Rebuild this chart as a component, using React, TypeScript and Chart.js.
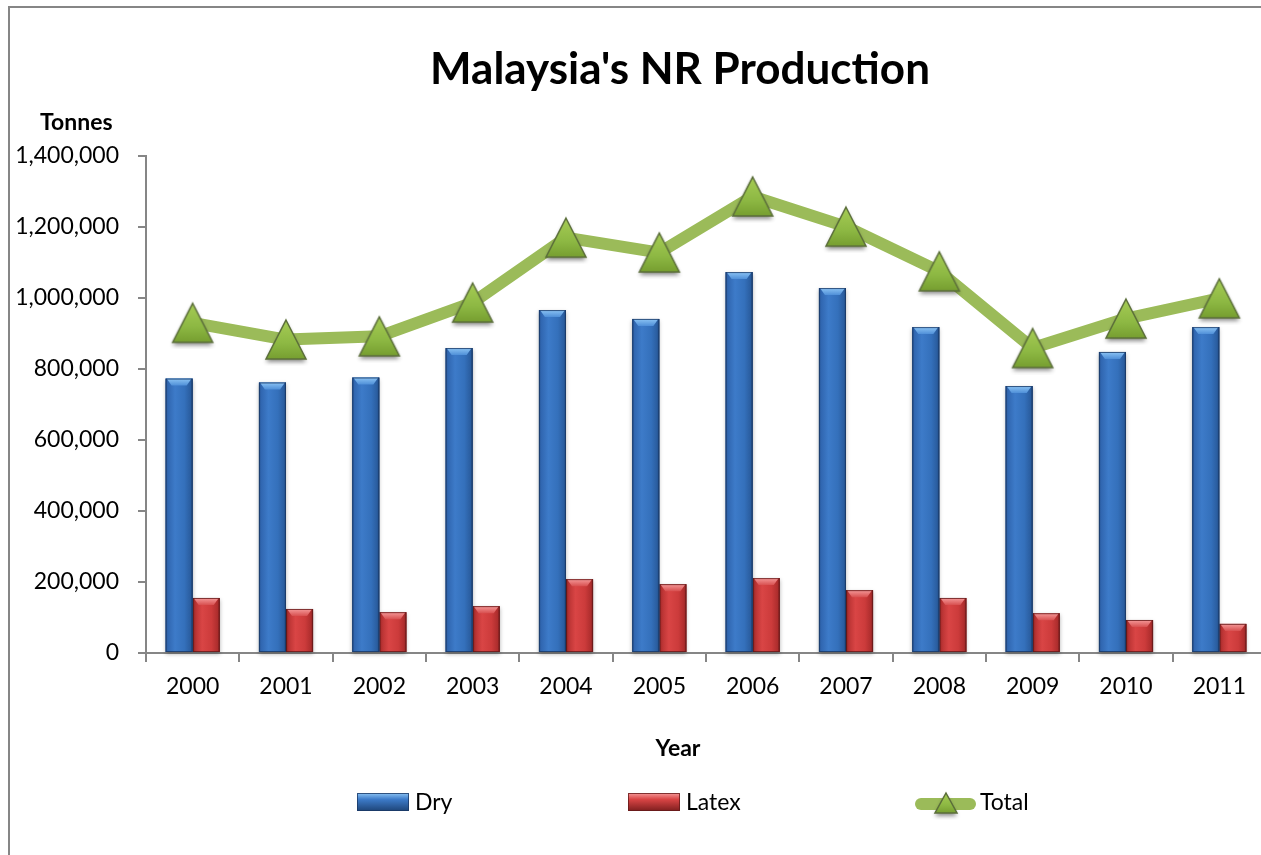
import React, { useEffect, useRef } from "react";
import { Chart, registerables } from "chart.js";

Chart.register(...registerables);

// ---------------- data ----------------
const years = ["2000", "2001", "2002", "2003", "2004", "2005", "2006", "2007", "2008", "2009", "2010", "2011"];
const dry = [773000, 762000, 776000, 859000, 966000, 941000, 1073000, 1028000, 918000, 752000, 848000, 918000];
const latex = [155000, 124000, 115000, 132000, 208000, 194000, 211000, 177000, 155000, 112000, 93000, 82000];
const total = [930000, 883000, 892000, 987000, 1170000, 1128000, 1286000, 1201000, 1075000, 859000, 942000, 999000];
const yTicksMax = 1400000;
const yTickStep = 200000;

const seriesNames = ["Dry", "Latex", "Total"];
const chartTitle = "Malaysia's NR Production";
const yTitle = "Tonnes";
const xTitle = "Year";

// ---------------- style ----------------
const FONT = 'Lato, "Noto Sans", sans-serif';
const AXIS = "#868686";
const GREEN = "#9bbb59";

const BLUE = {
  base: "#3470bd",
  stops: [
    [0, "#24508e"],
    [0.08, "#3066b0"],
    [0.35, "#3d7bc9"],
    [0.7, "#3470bb"],
    [0.92, "#2a5d9f"],
    [1, "#1e4578"],
  ],
  bevelTop: "#8cc4f4",
  bevelBot: "#4f8fd8",
  edge: "rgba(25,55,100,0.8)",
};
const RED = {
  base: "#c83a3a",
  stops: [
    [0, "#8e2424"],
    [0.08, "#b83232"],
    [0.35, "#d94545"],
    [0.7, "#cc3b3b"],
    [0.92, "#ad2d2d"],
    [1, "#7e1e1e"],
  ],
  bevelTop: "#f59a9a",
  bevelBot: "#d85050",
  edge: "rgba(100,25,25,0.8)",
};

function makeTriangle(w: number, h: number): HTMLCanvasElement {
  const pad = 7;
  const c = document.createElement("canvas");
  c.width = w + pad * 2;
  c.height = h + pad * 2;
  const g = c.getContext("2d")!;
  const path = () => {
    g.beginPath();
    g.moveTo(pad + w / 2, pad);
    g.lineTo(pad + w, pad + h);
    g.lineTo(pad, pad + h);
    g.closePath();
  };
  g.save();
  g.shadowColor = "rgba(0,0,0,0.45)";
  g.shadowBlur = 4;
  g.shadowOffsetY = 3;
  path();
  g.fillStyle = "#84ab3c";
  g.fill();
  g.restore();
  const grad = g.createLinearGradient(0, pad, 0, pad + h);
  grad.addColorStop(0, "#a6cc55");
  grad.addColorStop(0.6, "#8db843");
  grad.addColorStop(1, "#769e30");
  path();
  g.fillStyle = grad;
  g.fill();
  g.lineWidth = 1.5;
  g.strokeStyle = "#5b6e3a";
  g.stroke();
  return c;
}

function drawBarRect(ctx: CanvasRenderingContext2D, l: number, t: number, r: number, b: number, pal: any, shadow: boolean) {
  ctx.save();
  if (shadow) {
    ctx.shadowColor = "rgba(0,0,0,0.3)";
    ctx.shadowBlur = 4;
    ctx.shadowOffsetY = 2;
  }
  const g = ctx.createLinearGradient(l, 0, r, 0);
  pal.stops.forEach(([o, c]: [number, string]) => g.addColorStop(o, c));
  ctx.fillStyle = g;
  ctx.fillRect(l, t, r - l, b - t);
  ctx.restore();
  const bh = Math.min(7, (b - t) / 2);
  ctx.save();
  ctx.beginPath();
  ctx.moveTo(l + 1, t);
  ctx.lineTo(r - 1, t);
  ctx.lineTo(r - 6, t + bh);
  ctx.lineTo(l + 6, t + bh);
  ctx.closePath();
  const bg = ctx.createLinearGradient(0, t, 0, t + bh);
  bg.addColorStop(0, pal.bevelTop);
  bg.addColorStop(1, pal.bevelBot);
  ctx.fillStyle = bg;
  ctx.fill();
  ctx.strokeStyle = pal.edge;
  ctx.lineWidth = 1;
  ctx.strokeRect(l + 0.5, t + 0.5, r - l - 1, b - t - 1);
  ctx.restore();
}

const barStylePlugin = {
  id: "barStyle",
  afterDatasetDraw(chart: any, args: any) {
    const meta = args.meta;
    if (meta.type !== "bar") return;
    const pal = meta.label === seriesNames[0] ? BLUE : RED;
    const ctx = chart.ctx as CanvasRenderingContext2D;
    meta.data.forEach((el: any) => {
      const { x, y, base, width } = el.getProps(["x", "y", "base", "width"], true);
      drawBarRect(ctx, x - width / 2, Math.min(y, base), x + width / 2, Math.max(y, base), pal, true);
    });
  },
};

const decorPlugin = {
  id: "decor",
  afterDraw(chart: any) {
    const ctx = chart.ctx as CanvasRenderingContext2D;
    ctx.save();
    // frame
    ctx.strokeStyle = AXIS;
    ctx.lineWidth = 2;
    ctx.beginPath();
    ctx.moveTo(9, chart.height);
    ctx.lineTo(9, 7);
    ctx.lineTo(chart.width, 7);
    ctx.stroke();

    ctx.fillStyle = "#000";
    // title
    ctx.font = `bold 44px ${FONT}`;
    ctx.textAlign = "center";
    ctx.textBaseline = "alphabetic";
    ctx.fillText(chartTitle, 680, 84);
    // y title
    ctx.font = `bold 23px ${FONT}`;
    ctx.textAlign = "left";
    ctx.fillText(yTitle, 40, 130);
    // x title
    ctx.textAlign = "center";
    ctx.fillText(xTitle, 678, 756);

    // legend
    const ly = 802;
    ctx.font = `23px ${FONT}`;
    ctx.textAlign = "left";
    ctx.textBaseline = "middle";
    const boxes = [
      { x: 357, pal: BLUE },
      { x: 628, pal: RED },
    ];
    boxes.forEach((bx, i) => {
      const l = bx.x, r = bx.x + 52, t = ly - 9, b = ly + 9;
      ctx.save();
      const g = ctx.createLinearGradient(0, t, 0, b);
      g.addColorStop(0, bx.pal.bevelTop);
      g.addColorStop(0.35, bx.pal.stops[2][1] as string);
      g.addColorStop(1, bx.pal.stops[5][1] as string);
      ctx.fillStyle = g;
      ctx.fillRect(l, t, r - l, b - t);
      ctx.strokeStyle = bx.pal.edge;
      ctx.lineWidth = 1;
      ctx.strokeRect(l + 0.5, t + 0.5, r - l - 1, b - t - 1);
      ctx.restore();
      ctx.fillStyle = "#000";
      ctx.fillText(seriesNames[i], r + 6, ly + 1);
    });
    // total legend
    ctx.save();
    ctx.strokeStyle = GREEN;
    ctx.lineWidth = 12;
    ctx.lineCap = "round";
    ctx.beginPath();
    ctx.moveTo(921, ly + 2);
    ctx.lineTo(970, ly + 2);
    ctx.stroke();
    ctx.restore();
    const small = makeTriangle(22, 20);
    ctx.drawImage(small, 946 - small.width / 2, ly + 1 - small.height / 2);
    ctx.fillStyle = "#000";
    ctx.fillText(seriesNames[2], 980, ly + 1);
    ctx.restore();
  },
};

export default function App() {
  const ref = useRef<HTMLCanvasElement>(null);
  useEffect(() => {
    const canvas = ref.current!;
    const marker = makeTriangle(40, 39);
    const chart = new Chart(canvas, {
      type: "bar",
      data: {
        labels: years,
        datasets: [
          {
            type: "line",
            label: seriesNames[2],
            data: total,
            order: 0,
            borderColor: GREEN,
            backgroundColor: GREEN,
            borderWidth: 12,
            tension: 0,
            borderJoinStyle: "round",
            borderCapStyle: "round",
            pointStyle: marker as any,
            pointRadius: 20,
            pointHoverRadius: 20,
          } as any,
          {
            type: "bar",
            label: seriesNames[0],
            data: dry,
            order: 1,
            backgroundColor: BLUE.base,
            borderWidth: 0,
            categoryPercentage: 0.58,
            barPercentage: 1,
          },
          {
            type: "bar",
            label: seriesNames[1],
            data: latex,
            order: 1,
            backgroundColor: RED.base,
            borderWidth: 0,
            categoryPercentage: 0.58,
            barPercentage: 1,
          },
        ],
      },
      options: {
        responsive: false,
        animation: false,
        devicePixelRatio: 1,
        layout: { padding: { top: 156, right: 94, left: 0, bottom: 0 } },
        plugins: {
          legend: { display: false },
          title: { display: false },
          tooltip: { enabled: false },
        },
        scales: {
          x: {
            grid: { offset: true, drawOnChartArea: false, tickLength: 9, color: AXIS, lineWidth: 2 },
            border: { color: AXIS, width: 2 },
            ticks: { font: { family: FONT, size: 23 }, color: "#000", padding: 11, maxRotation: 0, autoSkip: false },
            afterFit: (s: any) => {
              s.height = 202;
            },
          },
          y: {
            min: 0,
            max: yTicksMax,
            ticks: {
              stepSize: yTickStep,
              font: { family: FONT, size: 23 },
              color: "#000",
              padding: 19,
              callback: (v: any) => Number(v).toLocaleString("en-US"),
            },
            grid: { drawOnChartArea: false, tickLength: 8, color: AXIS, lineWidth: 2 },
            border: { color: AXIS, width: 2 },
            afterFit: (s: any) => {
              s.width = 146;
            },
          },
        },
      },
      plugins: [barStylePlugin, decorPlugin],
    });
    return () => chart.destroy();
  }, []);

  return (
    <div style={{ position: "absolute", left: 0, top: 0, width: 1261, height: 855, overflow: "hidden", background: "#fff" }}>
      <canvas ref={ref} width={1360} height={855} style={{ display: "block", width: 1360, height: 855 }} />
    </div>
  );
}
